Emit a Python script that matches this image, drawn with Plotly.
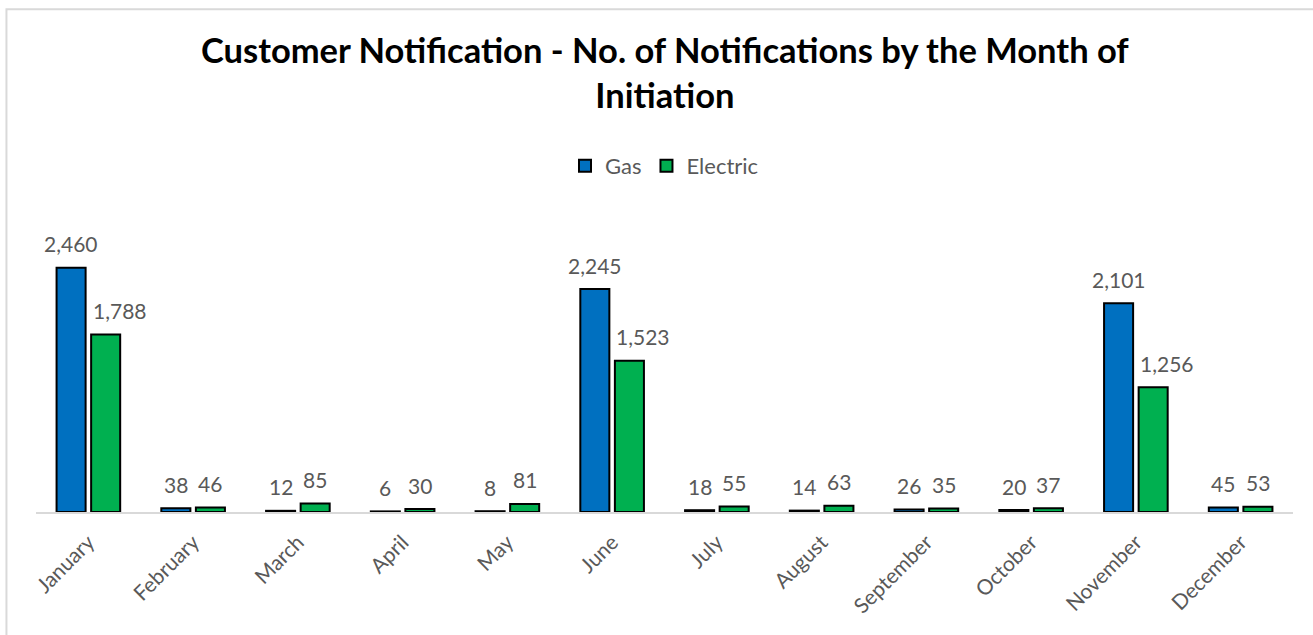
import plotly.graph_objects as go

months = ["January", "February", "March", "April", "May", "June", "July",
          "August", "September", "October", "November", "December"]
gas = [2460, 38, 12, 6, 8, 2245, 18, 14, 26, 20, 2101, 45]
electric = [1788, 46, 85, 30, 81, 1523, 55, 63, 35, 37, 1256, 53]

FONT = "Lato"
GRAY = "#595959"

fig = go.Figure()
fig.add_trace(go.Bar(
    name="Gas", x=months, y=gas,
    marker=dict(color="#0070C0", line=dict(color="#000000", width=2)),
    hoverinfo="x+y",
))
fig.add_trace(go.Bar(
    name="Electric", x=months, y=electric,
    marker=dict(color="#00B050", line=dict(color="#000000", width=2)),
    hoverinfo="x+y",
))

annotations = []
for m, v in zip(months, gas):
    annotations.append(dict(
        x=m, y=v, xref="x", yref="y", text=f"{v:,}", showarrow=False,
        xshift=-17.3, yshift=24, yanchor="middle", xanchor="center",
        font=dict(family=FONT, size=21, color=GRAY),
    ))
for m, v in zip(months, electric):
    # large labels are nudged right so they clear the neighbouring gas bar
    dx = 17.3 + (14 if v >= 1000 else 0)
    annotations.append(dict(
        x=m, y=v, xref="x", yref="y", text=f"{v:,}", showarrow=False,
        xshift=dx, yshift=24, yanchor="middle", xanchor="center",
        font=dict(family=FONT, size=21, color=GRAY),
    ))

annotations.append(dict(
    xref="paper", yref="paper", x=0.5, y=1.477, xanchor="center", yanchor="middle",
    text="<b>Customer Notification - No. of Notifications by the Month of<br>Initiation</b>",
    showarrow=False, font=dict(family=FONT, size=34.5, color="#000000"),
))

fig.update_layout(
    width=1313, height=635,
    margin=dict(l=36, r=20, t=214, b=123),
    paper_bgcolor="white", plot_bgcolor="white",
    barmode="group", bargap=0.34, bargroupgap=0.16,
    legend=dict(
        orientation="h", x=0.5, xanchor="center", y=1.161, yanchor="middle",
        font=dict(family=FONT, size=22, color=GRAY),
        traceorder="normal",
    ),
    showlegend=True,
    xaxis=dict(
        showline=True, linecolor="#D9D9D9", linewidth=1.5,
        tickangle=-45, tickfont=dict(family=FONT, size=21, color=GRAY),
        ticks="outside", ticklen=8, tickcolor="rgba(0,0,0,0)", showgrid=False,
    ),
    yaxis=dict(
        range=[0, 3000], visible=False, showgrid=False, zeroline=False,
    ),
    annotations=annotations,
    shapes=[dict(
        type="path", xref="paper", yref="paper",
        path="M -0.0235,-0.5 L -0.0235,1.687 L 1.05,1.687",
        line=dict(color="#D9D9D9", width=2),
    )],
)

fig.write_html("out.html", config={"displayModeBar": False},
               post_script="document.body.style.margin='0';")
